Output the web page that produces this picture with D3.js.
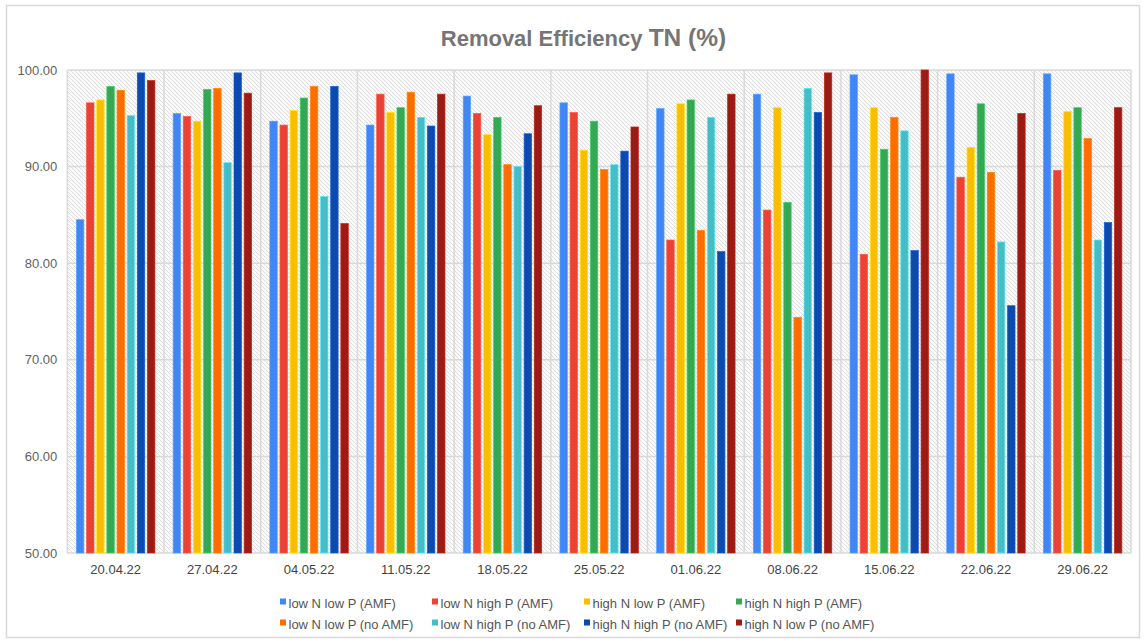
<!DOCTYPE html>
<html>
<head>
<meta charset="utf-8">
<script src="https://cdn.jsdelivr.net/npm/d3@7"></script>
<style>
  html, body { margin: 0; padding: 0; background: #fff; }
  svg { display: block; font-family: "Liberation Sans", Arial, sans-serif; }
</style>
</head>
<body>
<svg id="chart" width="1146" height="642"></svg>
<script>
const categories = ["20.04.22","27.04.22","04.05.22","11.05.22","18.05.22","25.05.22","01.06.22","08.06.22","15.06.22","22.06.22","29.06.22"];
const seriesNames = ["low N low P (AMF)","low N high P (AMF)","high N low P (AMF)","high N high P (AMF)","low N low P (no AMF)","low N high P (no AMF)","high N high P (no AMF)","high N low P (no AMF)"];
const seriesColors = ["#4285f4","#ea4335","#fbbc04","#34a853","#ff6d01","#46bdc6","#0d4aae","#9b1c14"];
const lowNlowP_AMF    = [84.5, 95.5, 94.7, 94.3, 97.3, 96.6, 96.0, 97.5, 99.5, 99.6, 99.6];
const lowNhighP_AMF   = [96.6, 95.2, 94.3, 97.5, 95.5, 95.6, 82.4, 85.5, 80.9, 88.9, 89.6];
const highNlowP_AMF   = [96.9, 94.7, 95.8, 95.6, 93.3, 91.7, 96.5, 96.1, 96.1, 92.0, 95.7];
const highNhighP_AMF  = [98.3, 98.0, 97.1, 96.1, 95.1, 94.7, 96.9, 86.3, 91.8, 96.5, 96.1];
const lowNlowP_noAMF  = [97.9, 98.1, 98.3, 97.7, 90.2, 89.7, 83.4, 74.4, 95.1, 89.4, 92.9];
const lowNhighP_noAMF = [95.3, 90.4, 86.9, 95.1, 90.0, 90.2, 95.1, 98.1, 93.7, 82.2, 82.4];
const highNhighP_noAMF= [99.7, 99.7, 98.3, 94.2, 93.4, 91.6, 81.2, 95.6, 81.3, 75.6, 84.2];
const highNlowP_noAMF = [98.9, 97.6, 84.1, 97.5, 96.3, 94.1, 97.5, 99.7, 100.0, 95.5, 96.1];
const seriesValues = [lowNlowP_AMF, lowNhighP_AMF, highNlowP_AMF, highNhighP_AMF, lowNlowP_noAMF, lowNhighP_noAMF, highNhighP_noAMF, highNlowP_noAMF];
const yTicks = [50, 60, 70, 80, 90, 100];

const svg = d3.select("#chart");
const pLeft = 67.3, pRight = 1131, pTop = 70, pBottom = 553;

// outer frame
svg.append("rect").attr("x", 6.5).attr("y", 5.5).attr("width", 1133).attr("height", 632)
  .attr("fill", "#fff").attr("stroke", "#d9d9d9").attr("stroke-width", 1.5);

// hatch pattern
const defs = svg.append("defs");
const pat = defs.append("pattern").attr("id", "hatch").attr("patternUnits", "userSpaceOnUse")
  .attr("width", 4).attr("height", 4);
pat.append("rect").attr("width", 4).attr("height", 4).attr("fill", "#fafafa");
pat.append("path").attr("d", "M-1,-1 L5,5 M-1,3 L1,5 M3,-1 L5,1").attr("stroke", "#dedede").attr("stroke-width", 1);

const x0 = d3.scaleBand().domain(categories).range([pLeft, pRight]).padding(0);
const x1 = d3.scaleBand().domain(seriesNames).range([0, x0.bandwidth()]).paddingInner(0.27).paddingOuter(0.9);
const y = d3.scaleLinear().domain([50, 100]).range([pBottom, pTop]);

svg.append("rect").attr("x", pLeft).attr("y", pTop).attr("width", pRight - pLeft).attr("height", pBottom - pTop)
  .attr("fill", "url(#hatch)");

// gridlines
svg.append("g").selectAll("line").data(yTicks).join("line")
  .attr("x1", pLeft).attr("x2", pRight).attr("y1", d => y(d)).attr("y2", d => y(d))
  .attr("stroke", "#d9d9d9").attr("stroke-width", 1.5);
const bounds = categories.map(c => x0(c)).concat([pRight]);
svg.append("g").selectAll("line").data(bounds).join("line")
  .attr("x1", d => d).attr("x2", d => d).attr("y1", pTop).attr("y2", pBottom)
  .attr("stroke", "#d9d9d9").attr("stroke-width", 1.5);

// bars
const gs = svg.append("g").selectAll("g").data(categories).join("g")
  .attr("transform", c => `translate(${x0(c)},0)`);
gs.selectAll("rect").data((c, i) => seriesNames.map((s, k) => ({s, k, v: seriesValues[k][i]})))
  .join("rect")
  .attr("x", d => x1(d.s)).attr("width", x1.bandwidth())
  .attr("y", d => y(d.v)).attr("height", d => y(50) - y(d.v))
  .attr("fill", d => seriesColors[d.k])
  .attr("stroke", d => d3.color(seriesColors[d.k]).brighter(0.6))
  .attr("stroke-width", 0.7);

// y axis labels
const yAxis = d3.axisLeft(y).tickValues(yTicks).tickFormat(d3.format(".2f")).tickSize(0).tickPadding(10);
const ya = svg.append("g").attr("transform", `translate(${pLeft},0)`).call(yAxis);
ya.select(".domain").remove();
ya.selectAll("text").attr("font-size", 13).attr("fill", "#5f5f5f").attr("font-family", "Liberation Sans, Arial, sans-serif");

// x axis labels
const xAxis = d3.axisBottom(x0).tickSize(0).tickPadding(12);
const xa = svg.append("g").attr("transform", `translate(0,${pBottom})`).call(xAxis);
xa.select(".domain").remove();
xa.selectAll("text").attr("font-size", 13).attr("fill", "#444").attr("font-family", "Liberation Sans, Arial, sans-serif");

// title
const t = svg.append("text").attr("x", 583.5).attr("y", 46).attr("text-anchor", "middle")
  .attr("font-weight", "bold").attr("fill", "#757575");
t.append("tspan").attr("font-size", 22).text("Removal Efficiency ");
t.append("tspan").attr("font-size", 24.5).text("TN (%)");

// legend
const leg = svg.append("g").selectAll("g").data(seriesNames).join("g")
  .attr("transform", (d, i) => `translate(${280 + (i % 4) * 152},${i < 4 ? 608 : 629})`);
leg.append("rect").attr("x", 0).attr("y", -9.5).attr("width", 6).attr("height", 6)
  .attr("fill", (d, i) => seriesColors[i]);
leg.append("text").attr("x", 8.5).attr("y", 0).attr("font-size", 13).attr("fill", "#555").text(d => d);
</script>
</body>
</html>
